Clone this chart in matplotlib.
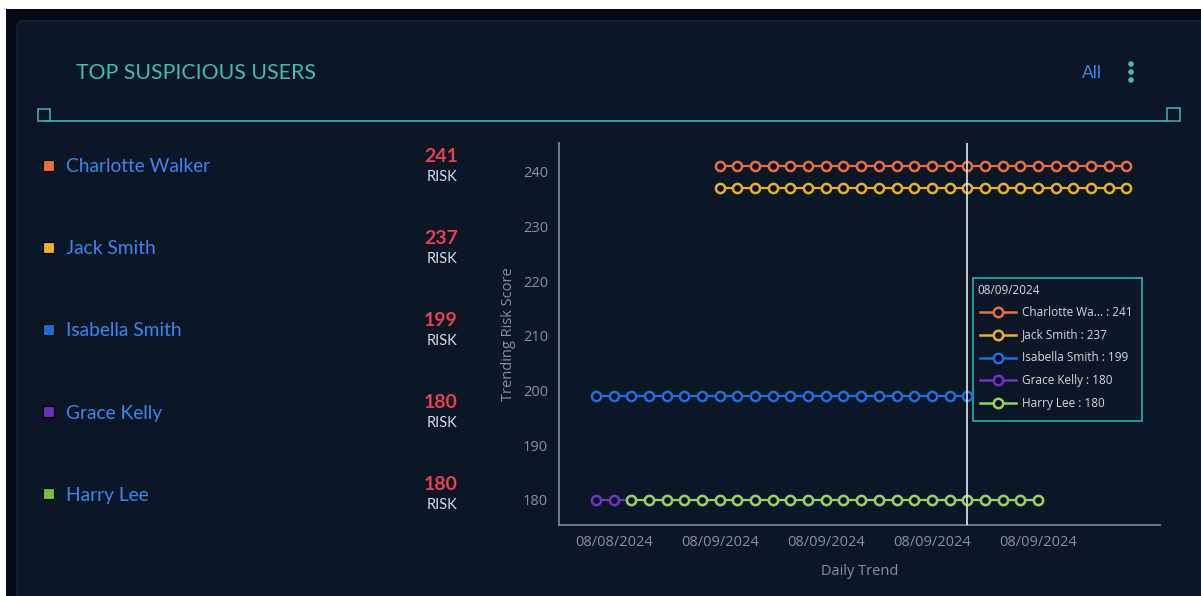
import matplotlib
matplotlib.use("Agg")
import matplotlib.pyplot as plt
from matplotlib.patches import Rectangle, FancyBboxPatch, Circle
from matplotlib.lines import Line2D

# ---------------- data ----------------
users = ["Charlotte Walker", "Jack Smith", "Isabella Smith", "Grace Kelly", "Harry Lee"]
risk = [241, 237, 199, 180, 180]
colors = ["#e8703a", "#e8b02e", "#1f6fd8", "#7033c4", "#8fd65a"]
square_colors = ["#e8703a", "#e8b02e", "#1f6fd8", "#6a30c0", "#6cc23f"]

# index positions on the daily trend axis and their values
charlotte_x = list(range(7, 31)); charlotte_y = [241] * 24
jack_x = list(range(7, 31));      jack_y = [237] * 24
isabella_x = list(range(0, 22));  isabella_y = [199] * 22
grace_x = list(range(0, 26));     grace_y = [180] * 26
harry_x = list(range(2, 26));     harry_y = [180] * 24
series_x = [charlotte_x, jack_x, isabella_x, grace_x, harry_x]
series_y = [charlotte_y, jack_y, isabella_y, grace_y, harry_y]

xtick_pos = [1, 7, 13, 19, 25]
xtick_labels = ["08/08/2024", "08/09/2024", "08/09/2024", "08/09/2024", "08/09/2024"]
yticks = [180, 190, 200, 210, 220, 230, 240]
hover_index = 21
tooltip_date = "08/09/2024"
tooltip_labels = ["Charlotte Wa... : 241", "Jack Smith : 237", "Isabella Smith : 199",
                  "Grace Kelly : 180", "Harry Lee : 180"]

# ---------------- figure ----------------
W, H = 1201, 596
fig = plt.figure(figsize=(W / 100, H / 100), dpi=100)
fig.patch.set_facecolor("white")

bg = fig.add_axes([0, 0, 1, 1])
bg.set_xlim(0, W); bg.set_ylim(H, 0); bg.axis("off")

# outer dark panel and card
bg.add_patch(Rectangle((6, 9), W - 6, H - 9, facecolor="#040b17", edgecolor="none"))
bg.add_patch(FancyBboxPatch((17, 21), W + 20, H + 20, boxstyle="round,pad=0,rounding_size=6",
                            facecolor="#0b1626", edgecolor="#1a2434", linewidth=1))

teal = "#3fbfb2"
bg.text(76, 73, "TOP SUSPICIOUS USERS", color=teal, fontsize=15.3, family="Lato",
        va="center", ha="left")
bg.text(1082, 73, "All", color="#3a86f0", fontsize=12.5, family="Lato", va="center", ha="left")
for yy in (64, 72, 80):
    bg.add_patch(Circle((1131, yy), 2.8, facecolor=teal, edgecolor="none"))

# divider
bg.plot([44, 1168], [121, 121], color="#3aa9a2", lw=1.3)
bg.add_patch(Rectangle((38, 109), 12, 12, facecolor="none", edgecolor="#3aa9a2", lw=1.2))
bg.add_patch(Rectangle((1167, 108), 13, 13, facecolor="none", edgecolor="#3aa9a2", lw=1.2))

# user list
for i, (u, r) in enumerate(zip(users, risk)):
    yc = 166 + 82 * i
    bg.add_patch(Rectangle((43, yc - 6), 11, 11, facecolor=square_colors[i],
                           edgecolor="#000000", lw=0.8))
    bg.text(66, yc + 1, u, color="#3a86f0", fontsize=13.8, family="Lato", va="center", ha="left")
    bg.text(441, yc - 10, str(r), color="#e8424a", fontsize=14, family="Lato",
            fontweight="bold", va="center", ha="center")
    bg.text(442, yc + 11, "RISK", color="#d8dde3", fontsize=10.5, family="Lato",
            va="center", ha="center")

# ---------------- chart ----------------
L, R, T, B = 559, 1160, 143, 525
ax = fig.add_axes([L / W, (H - B) / H, (R - L) / W, (B - T) / H])
ax.set_facecolor("none")
ax.set_xlim(-2.09, 31.9)
ax.set_ylim(175.4, 245.3)
for s in ("top", "right"):
    ax.spines[s].set_visible(False)
for s in ("left", "bottom"):
    ax.spines[s].set_color("#7c828c")
    ax.spines[s].set_linewidth(1.3)

for xs, ys, c in zip(series_x, series_y, colors):
    ax.plot(xs, ys, color=c, lw=1.6, marker="o", markersize=6.6, markerfacecolor="#0c0d2a",
            markeredgecolor=c, markeredgewidth=1.8, zorder=3)

ax.axvline(hover_index, color="#e6e6e6", lw=1.2, zorder=4)

ax.set_xticks(xtick_pos)
ax.set_xticklabels(xtick_labels)
ax.set_yticks(yticks)
ax.tick_params(length=0, colors="#8a9099", labelsize=10.5)
ax.tick_params(axis="x", pad=7)
ax.tick_params(axis="y", pad=8)
for lab in ax.get_xticklabels() + ax.get_yticklabels():
    lab.set_family("Open Sans")
ax.set_xlabel("Daily Trend", color="#8a9099", fontsize=10.5, family="Open Sans", labelpad=10)
ax.set_ylabel("Trending Risk Score", color="#8a9099", fontsize=10.5, family="Open Sans", labelpad=5)

# ---------------- tooltip ----------------
bg.add_patch(Rectangle((973, 278), 169, 143, facecolor="#0b1626", edgecolor="#1ea5a2",
                       lw=1.3, zorder=10))
bg.text(977, 291, tooltip_date, color="#d6d8dc", fontsize=8.5, family="Open Sans",
        va="center", ha="left", zorder=11)
for i, (lab, c) in enumerate(zip(tooltip_labels, colors)):
    yy = 312 + 22.8 * i
    bg.add_line(Line2D([980, 1016], [yy, yy], color=c, lw=1.8, zorder=11))
    bg.add_line(Line2D([998], [yy], color=c, marker="o", markersize=6.8,
                       markerfacecolor="#0c0d2a", markeredgecolor=c, markeredgewidth=1.8, zorder=12))
    bg.text(1022, yy, lab, color="#d6d8dc", fontsize=8.5, family="Open Sans",
            va="center", ha="left", zorder=11)

fig.savefig("out.png", dpi=100, facecolor=fig.get_facecolor())
